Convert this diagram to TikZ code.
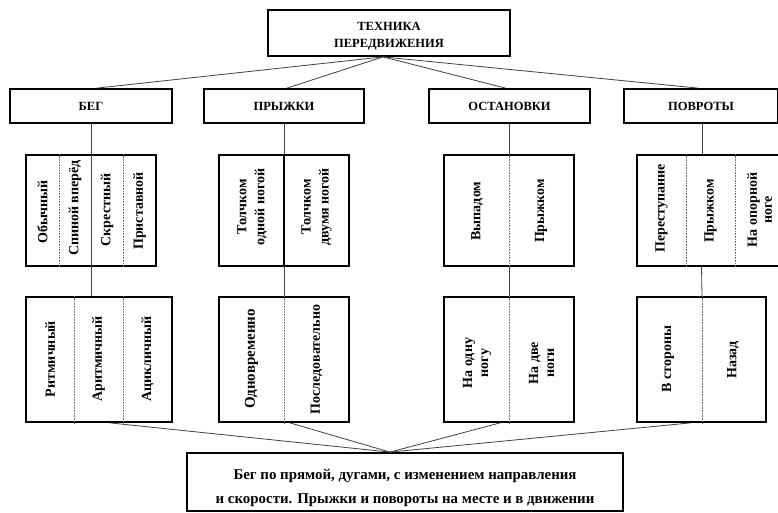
\documentclass[tikz,border=0pt]{standalone}
\usepackage{fontspec}
\setmainfont{Liberation Serif}
\usetikzlibrary{calc}
\begin{document}
\begin{tikzpicture}[x=1pt,y=-1pt,
  txt/.style={font=\bfseries\fontsize{12.5}{16.5}\selectfont, inner sep=0pt},
  vtxt/.style={font=\bfseries\fontsize{14}{18}\selectfont, inner sep=0pt, rotate=90, align=center},
  bigtxt/.style={font=\bfseries\fontsize{14.9}{24}\selectfont, inner sep=0pt, align=center},
  box/.style={draw, line width=1.8pt, inner sep=0pt},
  conn/.style={draw=black!75, line width=0.8pt},
  div/.style={draw=black!55, line width=0.6pt, densely dotted},
  soliddiv/.style={draw=black, line width=1.3pt}]
\useasboundingbox (0,0) rectangle (778,513);
\clip (0,0) rectangle (778,513);

% top
\node[box, minimum width=242, minimum height=46] (top) at (389,33) {};
\node[txt, align=center] (toptxt) at (389,36) {ТЕХНИКА\\ПЕРЕДВИЖЕНИЯ};

% categories
\node[box, minimum width=162, minimum height=34] (c1) at (91,106) {};
\node[box, minimum width=160, minimum height=34] (c2) at (284,106) {};
\node[box, minimum width=161, minimum height=34] (c3) at (509.5,106) {};
\node[box, minimum width=154, minimum height=34] (c4) at (701,106) {};
\node[txt] (c1t) at (c1) {БЕГ};
\node[txt] (c2t) at (c2) {ПРЫЖКИ};
\node[txt] (c3t) at (c3) {ОСТАНОВКИ};
\node[txt] (c4t) at (c4) {ПОВРОТЫ};

% level 2
\node[box, minimum width=130, minimum height=111] (a2) at (91,210.5) {};
\node[box, minimum width=130, minimum height=111] (b2) at (284,210.5) {};
\node[box, minimum width=130, minimum height=111] (s2) at (509,210.5) {};
\node[box, minimum width=147, minimum height=111] (p2) at (710.5,210.5) {};

% level 3
\node[box, minimum width=146, minimum height=125] (a3) at (99,359.5) {};
\node[box, minimum width=130, minimum height=125] (b3) at (284,359.5) {};
\node[box, minimum width=130, minimum height=125] (s3) at (509,359.5) {};
\node[box, minimum width=129, minimum height=125] (p3) at (701.5,359.5) {};

% bottom
\node[box, minimum width=436, minimum height=58] (bot) at (405,482) {};
\node[bigtxt] (bott) at (405,488) {Бег по прямой, дугами, с изменением направления\\и скорости. Прыжки и повороты на месте и в движении};

% dividers level 2
\draw[div] ([xshift=-32]a2.north) -- ([xshift=-32]a2.south);
\draw[div] ([xshift=32]a2.north) -- ([xshift=32]a2.south);
\draw[soliddiv] (b2.north) -- (b2.south);
\draw[div] (s2.north) -- (s2.south);
\draw[div] ([xshift=-24.5]p2.north) -- ([xshift=-24.5]p2.south);
\draw[div] ([xshift=24.5]p2.north) -- ([xshift=24.5]p2.south);
% dividers level 3
\draw[div] ([xshift=-25]a3.north) -- ([xshift=-25]a3.south);
\draw[div] ([xshift=24]a3.north) -- ([xshift=24]a3.south);
\draw[div] (b3.north) -- (b3.south);
\draw[div] (s3.north) -- (s3.south);
\draw[div] ([xshift=0.5]p3.north) -- ([xshift=0.5]p3.south);

% level 2 texts
\node[vtxt] (a2t1) at (42.5,212) {Обычный};
\node[vtxt] (a2t2) at (75,208) {Спиной вперёд};
\node[vtxt] (a2t3) at (107,210) {Скрестный};
\node[vtxt] (a2t4) at (139.5,211) {Приставной};
\node[vtxt] (b2t1) at (252,207) {Толчком\\одной ногой};
\node[vtxt] (b2t2) at (316.5,207) {Толчком\\двумя ногой};
\node[vtxt] (s2t1) at (477,211) {Выпадом};
\node[vtxt] (s2t2) at (541,211) {Прыжком};
\node[vtxt] (p2t1) at (661.5,208.5) {Переступание};
\node[vtxt] (p2t2) at (710.5,211) {Прыжком};
\node[vtxt, font=\bfseries\fontsize{14}{15}\selectfont] (p2t3) at (759.5,210) {На опорной\\ноге};

% level 3 texts
\node[vtxt] (a3t1) at (50,359) {Ритмичный};
\node[vtxt] (a3t2) at (98.5,359) {Аритмичный};
\node[vtxt] (a3t3) at (147.5,359) {Ацикличный};
\node[vtxt, font=\bfseries\fontsize{15}{18}\selectfont] (b3t1) at (251.5,359) {Одновременно};
\node[vtxt] (b3t2) at (316.5,359.5) {Последовательно};
\node[vtxt, font=\bfseries\fontsize{14}{16}\selectfont] (s3t1) at (477,363) {На одну\\ногу};
\node[vtxt, font=\bfseries\fontsize{14}{16}\selectfont] (s3t2) at (541.5,363) {На две\\ноги};
\node[vtxt] (p3t1) at (668,359) {В стороны};
\node[vtxt] (p3t2) at (733,360) {Назад};

% connectors top
\coordinate (tp) at ($(top.south)+(-6,0)$);
\draw[conn] (tp) -- ([xshift=6]c1.north);
\draw[conn] (tp) -- ([xshift=3]c2.north);
\draw[conn] (tp) -- ([xshift=-4]c3.north);
\draw[conn] (tp) -- ([xshift=-3]c4.north);

% verticals
\draw[conn] (c1.south) -- (c1.south |- a3.north);
\draw[conn] (c2.south) -- (b2.north);
\draw[conn] (b2.south) -- (b3.north);
\draw[conn] (c3.south) -- (c3.south |- s2.north);
\draw[conn] (s2.south) -- (s3.north);
\draw[conn] ([xshift=1]c4.south) -- ([xshift=1]c4.south |- p2.north);
\draw[conn] (p2.south -| p3.north) -- ([xshift=0.5]p3.north);

% connectors bottom
\coordinate (bp) at ($(bot.north)+(-15,0)$);
\draw[conn] ([xshift=11]a3.south) -- (bp);
\draw[conn] ([xshift=6]b3.south) -- (bp);
\draw[conn] ([xshift=-9]s3.south) -- (bp);
\draw[conn] ([xshift=-11]p3.south) -- (bp);
\end{tikzpicture}
\end{document}
